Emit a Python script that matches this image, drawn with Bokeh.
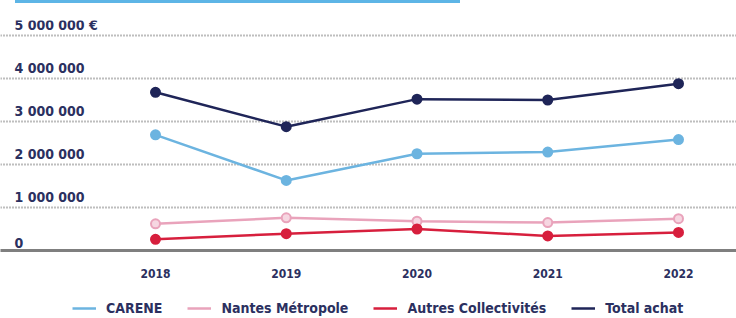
from bokeh.plotting import figure
from bokeh.models import Range1d, Legend, LegendItem, ColumnDataSource, FixedTicker, Div
from bokeh.layouts import column
from bokeh.core.properties import value
from bokeh.embed import file_html
from bokeh.resources import INLINE

years = [2018, 2019, 2020, 2021, 2022]
year_labels = ["2018", "2019", "2020", "2021", "2022"]
carene = [2690000, 1630000, 2250000, 2290000, 2580000]
nantes = [620000, 760000, 680000, 650000, 740000]
autres = [260000, 390000, 500000, 340000, 420000]
total = [3680000, 2880000, 3520000, 3500000, 3880000]
y_ticks = [0, 1000000, 2000000, 3000000, 4000000, 5000000]
y_tick_labels = ["0", "1 000 000", "2 000 000", "3 000 000", "4 000 000", "5 000 000 €"]

FONT = "'DejaVu Sans Condensed', 'DejaVu Sans', sans-serif"
NAVY = "#1f2558"
TXT = "#2b3060"

p = figure(width=736, height=290, output_backend="svg", toolbar_location=None,
           x_range=Range1d(2016.8145, 2022.4436), y_range=Range1d(0, 5349000),
           y_axis_location=None, min_border_left=0, min_border_right=0,
           min_border_top=17, min_border_bottom=43)
p.outline_line_color = None
p.background_fill_color = "white"

# grid
p.xgrid.grid_line_color = None
p.ygrid.ticker = FixedTicker(ticks=y_ticks)
p.ygrid.grid_line_color = "#7d7d7d"
p.ygrid.grid_line_width = 2
p.ygrid.grid_line_dash = "1 2"

# x axis
ax = p.xaxis[0]
ax.ticker = FixedTicker(ticks=years)
ax.major_label_overrides = {y: l for y, l in zip(years, year_labels)}
ax.axis_line_color = "#7f7f7f"
ax.axis_line_width = 3
ax.major_tick_line_color = None
ax.minor_tick_line_color = None
ax.major_label_standoff = 12
ax.major_label_text_font = FONT
ax.major_label_text_font_style = "bold"
ax.major_label_text_font_size = "12px"
ax.major_label_text_color = TXT

# y tick labels drawn as text above gridlines
src = ColumnDataSource(dict(x=[p.x_range.start] * len(y_ticks), y=y_ticks, t=y_tick_labels))
p.text(x="x", y="y", text="t", source=src, x_offset=14, y_offset=-3,
       text_baseline="bottom", text_align="left", text_font=value(FONT),
       text_font_style="bold", text_font_size="14px", text_color=TXT)

series_names = ["CARENE", "Nantes Métropole", "Autres Collectivités", "Total achat"]
series_vals = [carene, nantes, autres, total]
line_colors = ["#6cb4e0", "#e9a3bb", "#d71f3d", NAVY]
fill_colors = ["#6cb4e0", "#f6d6e1", "#d71f3d", NAVY]

for vals, col, fill in zip(series_vals, line_colors, fill_colors):
    p.line(years, vals, line_color=col, line_width=2.5)
    p.scatter(years, vals, size=9, marker="circle", fill_color=fill, line_color=col, line_width=2)

# legend strip as its own small figure (its lines lie outside its ranges)
lg = figure(width=736, height=25, output_backend="svg", toolbar_location=None,
            x_range=Range1d(0, 1), y_range=Range1d(0, 1),
            x_axis_location=None, y_axis_location=None,
            min_border_left=0, min_border_right=0, min_border_top=0, min_border_bottom=0)
lg.outline_line_color = None
lg.grid.visible = False
items = []
for name, vals, col in zip(series_names, series_vals, line_colors):
    r = lg.line(years, vals, line_color=col, line_width=2.5)
    items.append(LegendItem(label=name, renderers=[r]))
legend = Legend(items=items, orientation="horizontal", location=(72, 2),
                border_line_color=None, background_fill_alpha=0,
                glyph_width=24, glyph_height=14, label_height=14, label_standoff=10, spacing=25,
                padding=0, margin=0,
                label_text_font=FONT, label_text_font_style="bold",
                label_text_font_size="14px", label_text_color=TXT)
lg.add_layout(legend)

bar = Div(width=445, height=3, margin=(0, 0, 0, 15),
          styles={"background-color": "#5db5e6"})

layout = column(bar, p, lg, spacing=0)
open("out.html", "w").write(file_html(layout, INLINE))
